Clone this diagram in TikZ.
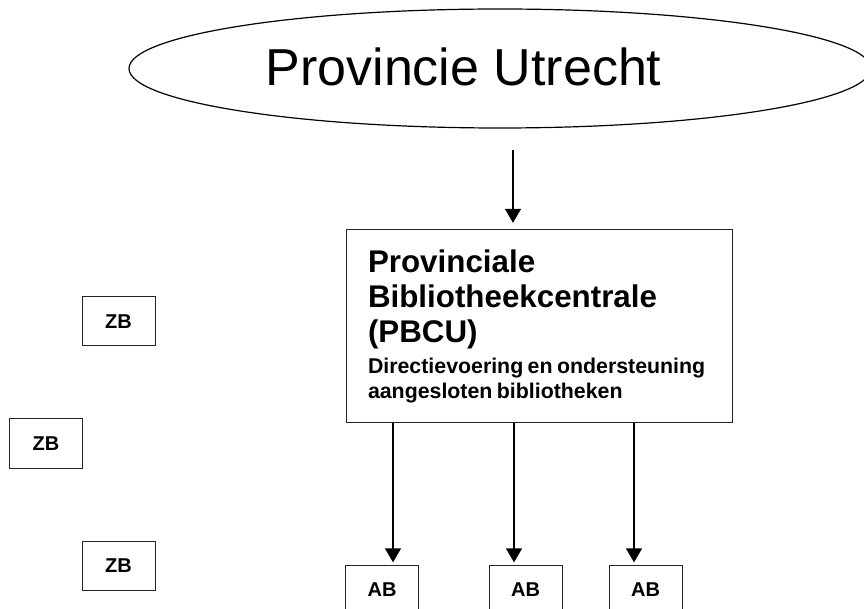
\documentclass[tikz,border=0pt]{standalone}
\usepackage{fontspec}
\setmainfont{Liberation Sans}
\usetikzlibrary{shapes.geometric,arrows.meta,positioning}
\def\boxw{54.75pt}
\def\boxh{36.75pt}

\begin{document}
\begin{tikzpicture}[x=0.75pt,y=-0.75pt,>={Triangle[length=10.5pt,width=12pt]}]
		\tikzstyle{small box}=[draw=black!85,line width=0.75pt,minimum width=\boxw,minimum height=\boxh,inner sep=0pt,font=\bfseries\fontsize{15pt}{17pt}\selectfont]
		\tikzstyle{conn}=[->,line width=1pt]
		\tikzstyle{annot}=[font=\fontsize{39pt}{45pt}\selectfont]
		
		\useasboundingbox (0,0) rectangle (864,609);
		\clip (0,0) rectangle (864,609);
		
		% Draw the province ellipse
		\node[ellipse,draw,line width=0.9pt,minimum width=556.5pt,minimum height=89.25pt] (prov) at (500,68.5) {};
		\node[annot] (provtext) at (463.5,67) {Provincie Utrecht};
		
		% Draw the PBCU box
		\node[draw=black!85,line width=0.75pt,minimum width=289.5pt,minimum height=144.75pt,
		text width=256.5pt,inner xsep=16.5pt,align=left] (pbcu) at (539,326.5) {%
			{\fontsize{23.5pt}{26.25pt}\selectfont\bfseries Provinciale\\Bibliotheekcentrale\\(PBCU)\par}
			\vspace{5pt}
			{\fontsize{16pt}{18.75pt}\selectfont\bfseries Directievoering en ondersteuning\\aangesloten bibliotheken\par}};
		
		% Draw the ZB boxes
		\foreach \name/\x/\y in {zb1/118.5/321.5, zb2/46/443.5, zb3/118.5/565.5}
		\node[small box] (\name) at (\x,\y) {ZB};
		
		% Draw the AB boxes
		\foreach \name/\x in {ab1/382, ab2/525.5, ab3/645.5}
		\node[small box] (\name) at (\x,590) {AB};
		
		% Connect the province with the PBCU
		\coordinate (p0) at (513,150);
		\draw[conn,shorten >=5pt] (p0) -- (p0 |- pbcu.north);
		
		% Connect the PBCU with every AB box
		\foreach \i/\x in {1/393,2/514,3/634}{
			\coordinate (s\i) at (\x,423);
			\draw[conn,shorten >=2pt] (s\i) -- (s\i |- ab\i.north);
		}
	\end{tikzpicture}
\end{document}
